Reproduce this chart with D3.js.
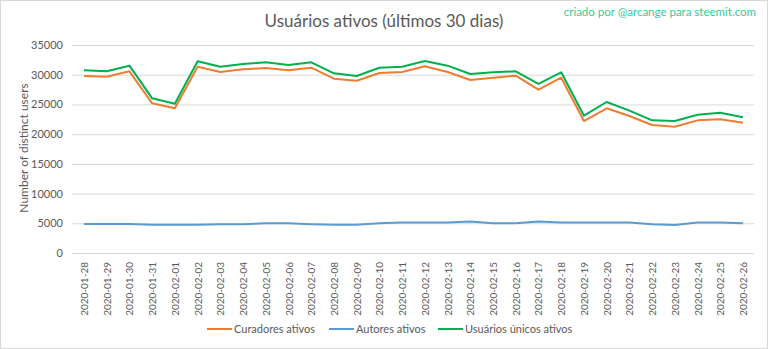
<!DOCTYPE html>
<html><head><meta charset="utf-8">
<script src="https://cdn.jsdelivr.net/npm/d3@7"></script>
<style>
html,body{margin:0;padding:0;background:#fff;}
svg{display:block;font-family:Lato,"Open Sans",sans-serif;}
</style></head>
<body>
<svg id="chart" width="768" height="349"></svg>
<script>
const dates = ["2020-01-28","2020-01-29","2020-01-30","2020-01-31","2020-02-01","2020-02-02","2020-02-03","2020-02-04","2020-02-05","2020-02-06","2020-02-07","2020-02-08","2020-02-09","2020-02-10","2020-02-11","2020-02-12","2020-02-13","2020-02-14","2020-02-15","2020-02-16","2020-02-17","2020-02-18","2020-02-19","2020-02-20","2020-02-21","2020-02-22","2020-02-23","2020-02-24","2020-02-25","2020-02-26"];
const curadores = [29780,29670,30570,25190,24350,31350,30460,30910,31130,30740,31180,29330,28990,30290,30460,31410,30460,29110,29500,29840,27480,29500,22210,24350,23060,21540,21250,22320,22490,21930];
const autores = [4900,4900,4900,4750,4750,4750,4850,4850,5000,5000,4850,4750,4750,5000,5150,5150,5150,5300,5000,5000,5300,5150,5150,5150,5150,4850,4700,5150,5150,5000];
const unicos = [30740,30570,31520,26030,25130,32250,31350,31800,32090,31640,32090,30230,29780,31180,31350,32310,31520,30120,30400,30570,28440,30400,23100,25410,23950,22320,22210,23270,23610,22830];
const yTicks = [0,5000,10000,15000,20000,25000,30000,35000];
const seriesNames = ["Curadores ativos","Autores ativos","Usuários únicos ativos"];
const seriesColors = ["#ED7D31","#5B9BD5","#00B050"];

const svg = d3.select("#chart");
svg.append("rect").attr("x",0.5).attr("y",0.5).attr("width",767).attr("height",348)
  .attr("fill","#fff").attr("stroke","#d9d9d9");

const x = d3.scalePoint().domain(dates).range([84,743]);
const y = d3.scaleLinear().domain([0,35000]).range([253,45]);

// grid
svg.append("g").selectAll("line").data(yTicks).join("line")
  .attr("x1",72).attr("x2",754).attr("y1",d=>y(d)+0.5).attr("y2",d=>y(d)+0.5)
  .attr("stroke","#d9d9d9").attr("stroke-width",1);

// y axis labels
const yAxis = d3.axisLeft(y).tickValues(yTicks).tickSize(0).tickPadding(0).tickFormat(d3.format("d"));
const ya = svg.append("g").attr("transform","translate(63,0)").call(yAxis);
ya.select(".domain").remove();
ya.selectAll("text").attr("fill","#595959").style("font-size","11px").style("font-family","Lato,'Open Sans',sans-serif");

// x axis labels
const xAxis = d3.axisBottom(x).tickSize(0).tickPadding(0);
const xa = svg.append("g").attr("transform","translate(0,262)").call(xAxis);
xa.select(".domain").remove();
xa.selectAll("text").attr("fill","#595959").style("font-size","10px")
  .style("font-family","Lato,'Open Sans',sans-serif")
  .attr("text-anchor","end").attr("transform","rotate(-90)")
  .attr("x",0).attr("y",0).attr("dx",0).attr("dy","0.35em");

// y title
svg.append("text").attr("transform","translate(28,148) rotate(-90)")
  .attr("text-anchor","middle").attr("fill","#595959").style("font-size","12px")
  .text("Number of distinct users");

// title
svg.append("text").attr("x",384).attr("y",27).attr("text-anchor","middle")
  .attr("fill","#595959").style("font-size","17px").text("Usuários ativos (últimos 30 dias)");
svg.append("text").attr("x",756).attr("y",16).attr("text-anchor","end")
  .attr("fill","#33cc99").style("font-size","11.5px").text("criado por @arcange para steemit.com");

// lines
const line = d3.line().x((d,i)=>x(dates[i])).y(d=>y(d));
[curadores,autores,unicos].forEach((s,i)=>{
  svg.append("path").datum(s).attr("d",line).attr("fill","none")
    .attr("stroke",seriesColors[i]).attr("stroke-width",2).attr("stroke-linejoin","round");
});

// legend
const legX = [207,329,438];
const lg = svg.append("g");
seriesNames.forEach((n,i)=>{
  lg.append("line").attr("x1",legX[i]).attr("x2",legX[i]+25).attr("y1",329).attr("y2",329)
    .attr("stroke",seriesColors[i]).attr("stroke-width",2);
  lg.append("text").attr("x",legX[i]+27).attr("y",333).attr("fill","#595959")
    .style("font-size","11px").text(n);
});
</script>
</body></html>
